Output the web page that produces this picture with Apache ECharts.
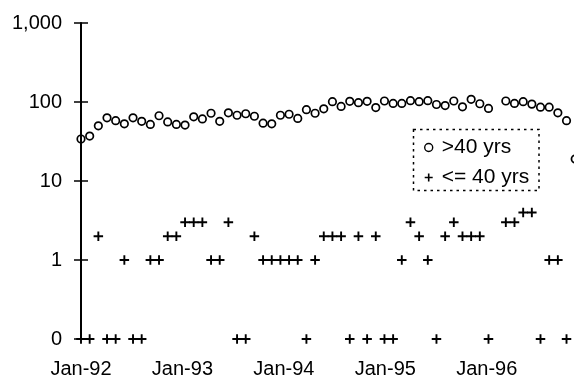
<!DOCTYPE html>
<html>
<head>
<meta charset="utf-8">
<script src="https://cdn.jsdelivr.net/npm/echarts@6/dist/echarts.min.js"></script>
<style>
  html, body { margin: 0; padding: 0; background: #fff; }
  #chart { width: 574px; height: 380px; }
</style>
</head>
<body>
<div id="chart"></div>
<script>
// Monthly counts, Jan-92 onwards (one entry per month; null = no record)
const MONTHS = [
  'Jan-92','Feb-92','Mar-92','Apr-92','May-92','Jun-92','Jul-92','Aug-92','Sep-92','Oct-92','Nov-92','Dec-92',
  'Jan-93','Feb-93','Mar-93','Apr-93','May-93','Jun-93','Jul-93','Aug-93','Sep-93','Oct-93','Nov-93','Dec-93',
  'Jan-94','Feb-94','Mar-94','Apr-94','May-94','Jun-94','Jul-94','Aug-94','Sep-94','Oct-94','Nov-94','Dec-94',
  'Jan-95','Feb-95','Mar-95','Apr-95','May-95','Jun-95','Jul-95','Aug-95','Sep-95','Oct-95','Nov-95','Dec-95',
  'Jan-96','Feb-96','Mar-96','Apr-96','May-96','Jun-96','Jul-96','Aug-96','Sep-96','Oct-96'
];

// Over 40 years
const OVER_40 = [
  34, 37, 50, 63, 58, 53, 63, 57, 52, 67, 56, 52,
  51, 65, 61, 72, 57, 73, 68, 71, 66, 54, 53, 68,
  70, 62, 80, 72, 82, 101, 88, 102, 98, 102, 85, 103,
  96, 96, 104, 101, 104, 93, 90, 103, 87, 108, 95, 83,
  null, 103, 96, 101, 94, 86, 86, 73, 58, 19
];

// 40 years or under
const UNDER_40 = [
  0, 0, 2, 0, 0, 1, 0, 0, 1, 1, 2, 2,
  3, 3, 3, 1, 1, 3, 0, 0, 2, 1, 1, 1,
  1, 1, 0, 1, 2, 2, 2, 0, 2, 0, 2, 0,
  0, 1, 3, 2, 1, 0, 2, 3, 2, 2, 2, 0,
  null, 3, 3, 4, 4, 0, 1, 1, 0, null
];

const SERIES_NAMES = ['>40 yrs', '<= 40 yrs'];
const Y_TICKS = [0.1, 1, 10, 100, 1000];
const Y_TICK_LABELS = ['0', '1', '10', '100', '1,000'];
const X_TICK_LABELS = ['Jan-92', 'Jan-93', 'Jan-94', 'Jan-95', 'Jan-96'];

// zero counts sit on the bottom of the log axis
const LOG_FLOOR = 0.1;
// spacing of the year labels along the month axis
const LABEL_STEP = 11.7;

const FONT = 'Liberation Sans, Arial, sans-serif';
const PLUS = 'path://M4,0H6V4H10V6H6V10H4V6H0V4H4Z';

function toPoints(values) {
  return values.map((v, i) => [i, v === null ? null : (v === 0 ? LOG_FLOOR : v)]);
}

function yLabel(v) {
  for (let k = 0; k < Y_TICKS.length; k++) {
    if (Math.abs(Math.log10(v) - Math.log10(Y_TICKS[k])) < 1e-6) return Y_TICK_LABELS[k];
  }
  return '';
}

function xLabel(v) {
  const k = v / LABEL_STEP;
  const r = Math.round(k);
  if (Math.abs(k - r) > 0.01) return '';
  return X_TICK_LABELS[r] || '';
}

const chart = echarts.init(document.getElementById('chart'), null, { renderer: 'canvas' });

const yCommon = {
  type: 'log',
  logBase: 10,
  min: 0.1,
  max: 1000,
  position: 'left',
  splitLine: { show: false }
};

chart.setOption({
  backgroundColor: '#fff',
  animation: false,
  grid: {
    left: 81, top: 23, width: (MONTHS.length + 1) * 8.67, height: 316,
    containLabel: false, outerBoundsMode: 'none'
  },
  xAxis: {
    type: 'value',
    min: 0,
    max: MONTHS.length + 1,
    interval: LABEL_STEP,
    axisLine: { show: false },
    axisTick: { show: false },
    splitLine: { show: false },
    axisLabel: {
      margin: 20,
      color: '#000',
      fontFamily: FONT,
      fontSize: 20,
      formatter: xLabel,
      showMinLabel: true,
      showMaxLabel: true,
      hideOverlap: false
    }
  },
  yAxis: [
    Object.assign({}, yCommon, {
      axisLine: { show: true, lineStyle: { color: '#000', width: 2 } },
      axisTick: { show: true, inside: false, length: 7, lineStyle: { color: '#000', width: 1.5 } },
      axisLabel: { margin: 19, color: '#000', fontFamily: FONT, fontSize: 20, formatter: yLabel }
    }),
    Object.assign({}, yCommon, {
      axisLine: { show: false },
      axisTick: { show: true, inside: true, length: 7, lineStyle: { color: '#000', width: 1.5 } },
      axisLabel: { show: false }
    })
  ],
  legend: {
    orient: 'vertical',
    left: 419,
    top: 132,
    itemWidth: 16,
    itemHeight: 8,
    itemGap: 9,
    textStyle: { color: '#000', fontFamily: FONT, fontSize: 21 },
    data: [
      { name: SERIES_NAMES[0], icon: 'circle',
        itemStyle: { color: 'rgba(0,0,0,0)', borderColor: '#000', borderWidth: 1.4 } },
      { name: SERIES_NAMES[1], icon: PLUS, itemStyle: { color: '#000' } }
    ]
  },
  graphic: [{
    type: 'rect',
    shape: { x: 413.5, y: 129.5, width: 125.5, height: 61 },
    style: { fill: 'none', stroke: '#000', lineWidth: 1.5, lineDash: [2.5, 4] },
    silent: true
  }],
  series: [
    {
      name: SERIES_NAMES[0],
      type: 'scatter',
      yAxisIndex: 0,
      symbol: 'circle',
      symbolSize: 7.5,
      itemStyle: { color: 'rgba(0,0,0,0)', borderColor: '#000', borderWidth: 1.7, opacity: 1 },
      data: toPoints(OVER_40)
    },
    {
      name: SERIES_NAMES[1],
      type: 'scatter',
      yAxisIndex: 0,
      symbol: PLUS,
      symbolSize: 9.5,
      itemStyle: { color: '#000', opacity: 1 },
      data: toPoints(UNDER_40)
    }
  ]
});
</script>
</body>
</html>
